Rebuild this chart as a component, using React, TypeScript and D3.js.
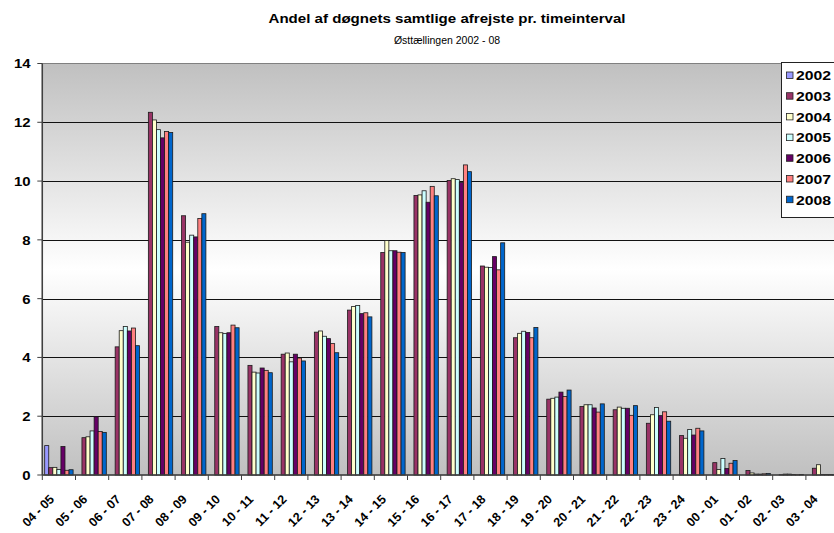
import React from "react";
import * as d3 from "d3";

const categories = ["04 - 05","05 - 06","06 - 07","07 - 08","08 - 09","09 - 10","10 - 11","11 - 12","12 - 13","13 - 14","14 - 15","15 - 16","16 - 17","17 - 18","18 - 19","19 - 20","20 - 21","21 - 22","22 - 23","23 - 24","00 - 01","01 - 02","02 - 03","03 - 04"];
const years = ["2002","2003","2004","2005","2006","2007","2008"];
const colors = ["#9999FF","#993366","#FFFFCC","#CCFFFF","#660066","#FF8080","#0066CC"];

const y2002 = [1.0,0,0,0,0,0,0,0,0,0,0,0,0,0,0,0,0,0,0,0,0,0,0,0];
const y2003 = [0.25,1.27,4.36,12.34,8.82,5.05,3.73,4.11,4.86,5.61,7.57,9.51,10.02,7.11,4.67,2.58,2.33,2.22,1.76,1.34,0.42,0.15,0.01,0.23];
const y2004 = [0.26,1.30,4.91,12.08,7.92,4.84,3.50,4.15,4.90,5.73,7.98,9.53,10.08,7.07,4.82,2.61,2.39,2.31,2.05,1.25,0.19,0.07,0.03,0.35];
const y2005 = [0.19,1.50,5.05,11.75,8.16,4.81,3.47,3.85,4.72,5.77,7.63,9.67,10.05,7.06,4.89,2.65,2.39,2.27,2.30,1.55,0.56,0.03,0.03,0.02];
const y2006 = [0.97,1.98,4.90,11.47,8.10,4.84,3.64,4.11,4.64,5.49,7.63,9.28,9.95,7.43,4.85,2.82,2.28,2.27,2.02,1.36,0.22,0.03,0.02,0.02];
const y2007 = [0.16,1.48,5.00,11.69,8.73,5.10,3.56,3.98,4.47,5.52,7.58,9.82,10.55,6.98,4.67,2.67,2.14,2.03,2.15,1.59,0.40,0.04,0.01,0.02];
const y2008 = [0.18,1.45,4.40,11.65,8.89,5.01,3.48,3.88,4.16,5.38,7.57,9.50,10.32,7.90,5.02,2.89,2.42,2.36,1.83,1.50,0.49,0.05,0.02,0.01];
const series = [y2002,y2003,y2004,y2005,y2006,y2007,y2008];
const yTicks = [0,2,4,6,8,10,12,14];

const W = 834, H = 533;
const left = 42.3, step = 33.2;
const top = 63.5, bottom = 475;
const font = "'Liberation Sans', Arial, sans-serif";

export default function App() {
  const x0 = d3.scaleBand<string>().domain(categories).range([left, left + step * categories.length]).padding(0);
  const x1 = d3.scaleBand<string>().domain(years).range([0, x0.bandwidth()]).paddingInner(0).paddingOuter(0.59);
  const y = d3.scaleLinear().domain([0, 14]).range([bottom, top]);
  const right = left + step * categories.length;

  return (
    <svg width={W} height={H} style={{ position: "absolute", left: 0, top: 0, background: "#fff" }} fontFamily={font}>
      <defs>
        <linearGradient id="bg" x1="0" y1="0" x2="0" y2="1">
          <stop offset="0%" stopColor="#c0c0c0" />
          <stop offset="50%" stopColor="#ffffff" />
          <stop offset="100%" stopColor="#c0c0c0" />
        </linearGradient>
      </defs>
      <text x={447} y={23} textAnchor="middle" fontWeight="bold" fontSize={13.5} textLength={357} lengthAdjust="spacingAndGlyphs">Andel af døgnets samtlige afrejste pr. timeinterval</text>
      <text x={447} y={44} textAnchor="middle" fontSize={10.5}>Østtællingen 2002 - 08</text>

      <rect x={left} y={top} width={right - left} height={bottom - top} fill="url(#bg)" stroke="#808080" strokeWidth={1} />
      {yTicks.slice(1, -1).map(t => (
        <line key={t} x1={left} x2={right} y1={Math.round(y(t)) + 0.5} y2={Math.round(y(t)) + 0.5} stroke="#111" strokeWidth={1} />
      ))}

      {categories.map((c, i) => (
        <g key={c} transform={`translate(${x0(c)},0)`}>
          {years.map((yr, j) => {
            const v = series[j][i];
            if (!v) return null;
            return (
              <rect key={yr} x={x1(yr)} y={y(v)} width={x1.bandwidth()} height={y(0) - y(v)}
                fill={colors[j]} stroke="#1a1a1a" strokeWidth={0.8} />
            );
          })}
        </g>
      ))}

      {/* y axis */}
      <line x1={left} x2={left} y1={top} y2={bottom} stroke="#404040" strokeWidth={1.5} />
      {yTicks.map(t => (
        <g key={t}>
          <line x1={left - 5} x2={left} y1={y(t)} y2={y(t)} stroke="#404040" strokeWidth={1} />
          <text x={30.5} y={y(t)} dy="0.36em" textAnchor="end" fontWeight="bold" fontSize={13.5}
            textLength={String(t).length * 8.3} lengthAdjust="spacingAndGlyphs">{t}</text>
        </g>
      ))}
      {/* x axis */}
      <line x1={left} x2={right} y1={bottom} y2={bottom} stroke="#404040" strokeWidth={1.5} />
      {categories.map(c => (
        <line key={"t" + c} x1={(x0(c) as number)} x2={(x0(c) as number)} y1={bottom} y2={bottom + 5} stroke="#404040" strokeWidth={1} />
      ))}
      {categories.map(c => {
        const cx = (x0(c) as number) + step / 2;
        return (
          <text key={"l" + c} transform={`translate(${cx - 4},${500}) rotate(-45)`} textAnchor="end" fontWeight="bold" fontSize={12.5}>{c}</text>
        );
      })}

      {/* legend */}
      <rect x={781.5} y={62.5} width={70} height={155} fill="#fff" stroke="#222" strokeWidth={1} />
      {years.map((yr, j) => (
        <g key={yr} transform={`translate(786,${75.5 + j * 20.7})`}>
          <rect x={0.5} y={-3.5} width={6.5} height={6.5} fill={colors[j]} stroke="#222" strokeWidth={0.8} />
          <text x={10} y={0.3} dy="0.36em" fontWeight="bold" fontSize={12.5} textLength={35} lengthAdjust="spacingAndGlyphs">{yr}</text>
        </g>
      ))}
    </svg>
  );
}
